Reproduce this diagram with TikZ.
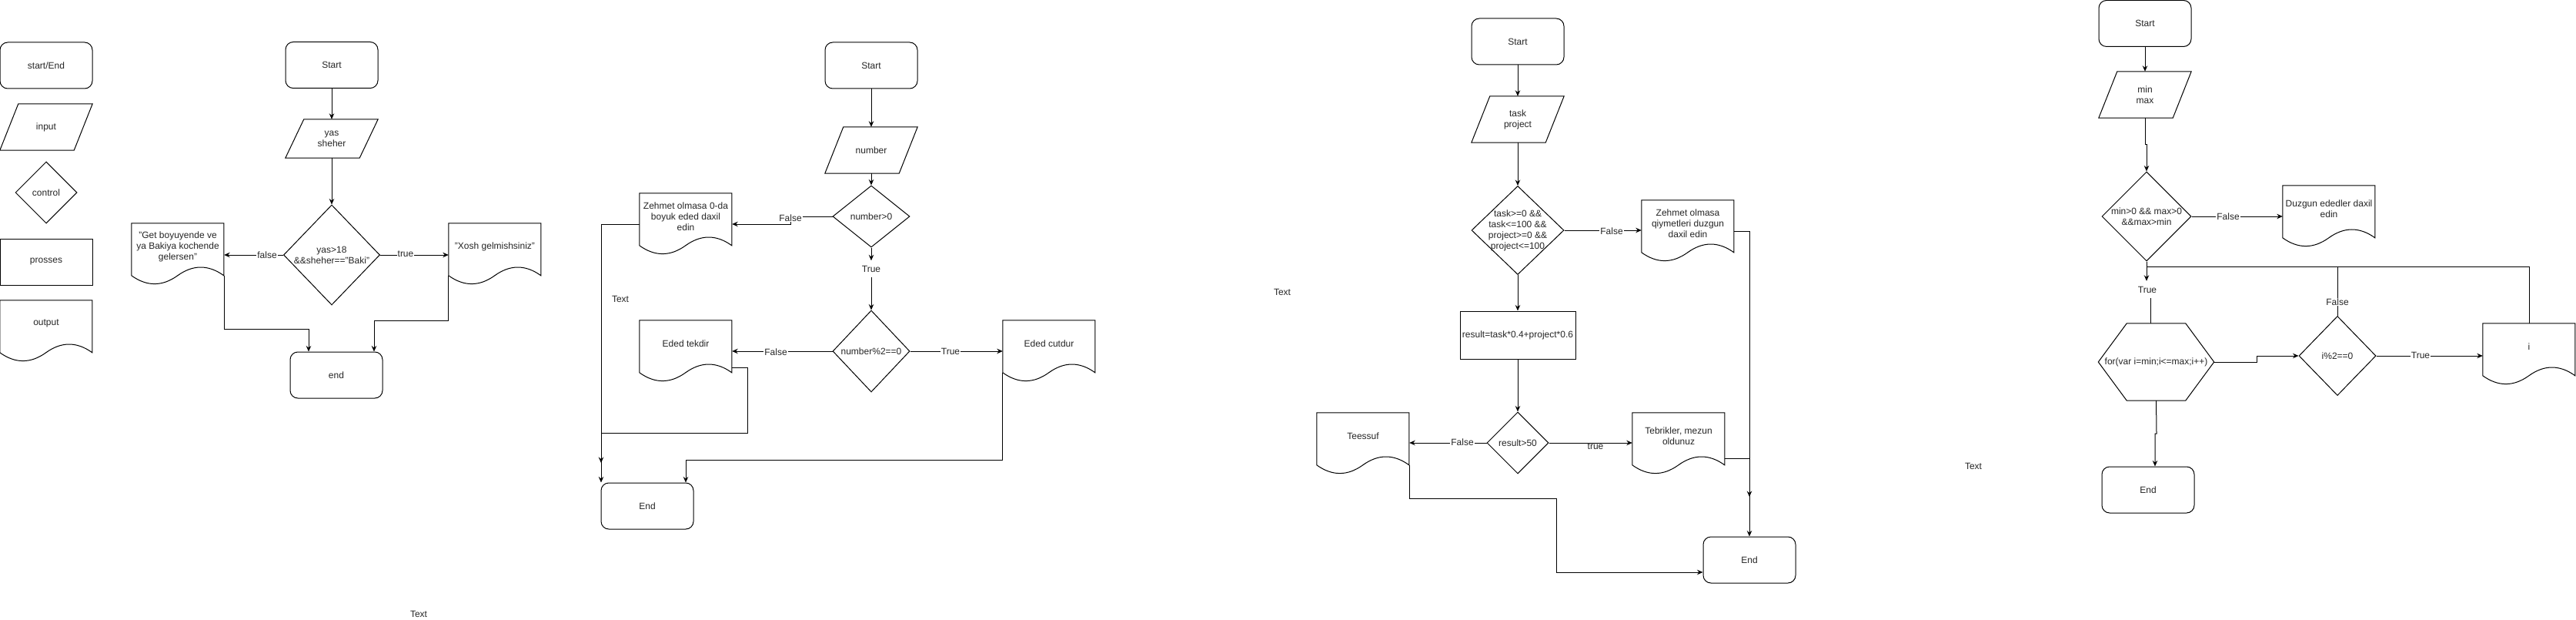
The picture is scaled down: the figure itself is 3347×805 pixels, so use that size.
\documentclass[tikz,border=0pt]{standalone}
\usepackage{fontspec}
\setmainfont{Liberation Sans}
\usetikzlibrary{shapes.geometric,arrows.meta}
\newcommand\ioframe[1]{\draw[stroke1] ([xshift=24pt]#1.north west) -- (#1.north east) -- ([xshift=-24pt]#1.south east) -- (#1.south west) -- cycle;}
\newcommand\docframe[1]{\draw[stroke1,shift={(#1.north west)}] (0,0) -- (120,0) -- (120,68) .. controls (100,53.6) and (80,53.6) .. (60,68) .. controls (40,82.4) and (20,82.4) .. (0,68) -- cycle;}
\newcommand\hexframe[1]{\draw[stroke1] ([xshift=37pt]#1.north west) -- ([xshift=-37pt]#1.north east) -- (#1.east) -- ([xshift=-37pt]#1.south east) -- ([xshift=37pt]#1.south west) -- (#1.west) -- cycle;}
\begin{document}
\begin{tikzpicture}[x=1pt,y=-1pt,
  every node/.style={font=\fontsize{12}{14}\selectfont,text=black!85},
  stroke1/.style={draw=black,line width=1pt},
  arr/.style={stroke1,-{Stealth[length=7.5pt,width=6.5pt,inset=2.5pt]}},
  term/.style={stroke1,rectangle,rounded corners=10pt,minimum width=120pt,minimum height=60pt,inner sep=0pt},
  proc/.style={stroke1,rectangle,minimum width=120pt,minimum height=60pt,inner sep=0pt},
  dec/.style={stroke1,diamond,inner sep=0pt},
  iobox/.style={rectangle,minimum width=120pt,minimum height=60pt,inner sep=0pt},
  docbox/.style={rectangle,minimum width=120pt,minimum height=80pt,inner sep=0pt},
  txt/.style={align=center,inner sep=0pt},
  doctxt/.style={align=center,inner sep=0pt,yshift=10pt},
  elab/.style={fill=white,inner sep=1pt},
]
\fill[white] (0,0) rectangle (3347,805);
\useasboundingbox (0,0) rectangle (3347,805);

% ---------- legend ----------
\node[term] (Lterm) at (60,85) {start/End};
\node[iobox,label={[txt]center:input}] (Lio) at (60,165) {};
\ioframe{Lio}
\node[dec,minimum width=80pt,minimum height=80pt,label={[txt]center:control}] (Ldec) at (60,250) {};
\node[proc] (Lproc) at (60,340) {prosses};
\node[docbox,label={[doctxt]center:output}] (Ldoc) at (60,430) {};
\docframe{Ldoc}

% ---------- flow A ----------
\node[term] (A1) at (431,84.5) {Start};
\node[iobox,minimum height=50pt,label={[txt]center:{yas\\sheher}}] (A2) at (431,180) {};
\ioframe{A2}
\node[dec,minimum width=125pt,minimum height=130pt,label={[txt]center:{yas>18\\\&\&sheher=="Baki"}}] (A3) at (431,331) {};
\node[docbox,label={[doctxt]center:{"Get boyuyende ve\\ya Bakiya kochende\\gelersen"}}] (A4) at (231,330) {};
\docframe{A4}
\node[docbox,label={[doctxt]center:{"Xosh gelmishsiniz"}}] (A5) at (643,330) {};
\docframe{A5}
\node[term] (A6) at (437,487) {end};
\draw[arr] (A1) -- (A2);
\draw[arr] (A2) -- (A3);
\draw[arr] (A3.west) -- (A3.west -| A4.east);
\node[elab] (Af) at (347,331) {false};
\draw[arr] (A3.east) -- (A3.east -| A5.west);
\node[elab] (At) at (527,330) {true};
\draw[arr] ([yshift=-28pt]A4.east) |- (401,427) -- (401,0 |- A6.north);
\draw[arr] ([yshift=-28pt]A5.west) |- (486,416) -- (486,0 |- A6.north);
\node (Tx1) at (544,797) {Text};

% ---------- flow B ----------
\node[term] (B1) at (1132,85) {Start};
\node[iobox,label={[txt]center:number}] (B2) at (1132,195) {};
\ioframe{B2}
\node[dec,minimum width=100pt,minimum height=80pt,label={[txt]center:{number>0}}] (B3) at (1132,281) {};
\node[inner sep=0pt,minimum height=21pt] (Bt) at (1132,349) {True};
\node[dec,minimum width=100pt,minimum height=106pt,label={[txt]center:{number\%2==0}}] (B5) at (1132,456) {};
\node[docbox,label={[doctxt]center:{Zehmet olmasa 0-da\\boyuk eded daxil\\edin}}] (B4) at (891,291) {};
\docframe{B4}
\node[docbox,label={[doctxt]center:{Eded tekdir}}] (B6) at (891,456) {};
\docframe{B6}
\node[docbox,label={[doctxt]center:{Eded cutdur}}] (B7) at (1363,456) {};
\docframe{B7}
\node[term] (B8) at (841,657) {End};
\draw[arr] (B1) -- (B2);
\draw[arr] (B2) -- (B3);
\draw[arr] (B3.south) -- (Bt.north);
\draw[arr] (Bt.south) -- (B5.north);
\draw[arr] (B3.west) -- (1027,281) -- (1027,291) -- (B4.east);
\node[elab] (Bf1) at (1027,283) {False};
\draw[arr] (B4.west) -- (781,291) -- (781,0 |- B8.north);
\draw[arr] (B5.west) -- (B6.east);
\node[elab] (Bf2) at (1008,457) {False};
\coordinate (Bj) at (781,601);
\draw[arr] ([yshift=-21pt]B6.east) -- (971,477) -- (971,562) -- (781,562) -- (Bj);
\draw[arr] (B5.east) -- (B7.west);
\node[elab] (Bt2) at (1235,456) {True};
\draw[arr] ([yshift=-28pt]B7.west) |- (891,597) -- (891,0 |- B8.north);
\node (Tx2) at (806,388) {Text};

% ---------- flow C ----------
\node[term] (C1) at (1972,54) {Start};
\node[iobox,label={[txt]center:{task\\project}}] (C2) at (1972,155) {};
\ioframe{C2}
\node[dec,minimum width=120pt,minimum height=115pt,label={[txt]center:{task>=0 \&\&\\task<=100 \&\&\\project>=0 \&\&\\project<=100}}] (C3) at (1972,299) {};
\node[docbox,label={[doctxt]center:{Zehmet olmasa\\qiymetleri duzgun\\daxil edin}}] (C4) at (2193,300) {};
\docframe{C4}
\node[proc,minimum width=150pt,minimum height=62pt] (C5) at (1972,435) {result=task*0.4+project*0.6};
\node[dec,minimum width=80pt,minimum height=80pt,label={[txt]center:{result>50}}] (C6) at (1972,575) {};
\node[docbox,label={[doctxt]center:{Teessuf}}] (C7) at (1771,576) {};
\docframe{C7}
\node[docbox,label={[doctxt]center:{Tebrikler, mezun\\oldunuz}}] (C8) at (2181,576) {};
\docframe{C8}
\node[term] (C9) at (2273,727) {End};
\draw[arr] (C1) -- (C2);
\draw[arr] (C2) -- (C3);
\draw[arr] (C3.east) -- (C3.east -| C4.west);
\node[elab] (Cf1) at (2094,300) {False};
\draw[arr] (C3) -- (C5);
\draw[arr] (C5) -- (C6);
\draw[arr] (C6.west) -- (C6.west -| C7.east);
\node[elab] (Cf2) at (1900,574) {False};
\draw[arr] (C6.east) -- (C6.east -| C8.west);
\node[inner sep=0pt] (Ct) at (2073,580) {true};
\draw[arr] (C4.east) -- (2273,300) -- (C9.north);
\coordinate (Cj) at (2273,645);
\draw[arr] ([yshift=-19pt]C8.east) -- (2273,595) -- (Cj);
\draw[arr] ([yshift=-28pt]C7.east) |- (2022,647) |- ([yshift=-16pt]C9.west);
\node (Tx3) at (1666,379) {Text};

% ---------- flow D ----------
\node[term] (D1) at (2787,30.5) {Start};
\node[iobox,label={[txt]center:{min\\max}}] (D2) at (2787,123) {};
\ioframe{D2}
\node[dec,minimum width=116pt,minimum height=116pt,label={[txt]center:{min>0 \&\& max>0\\\&\&max>min}}] (D3) at (2789,281) {};
\node[docbox,label={[doctxt]center:{Duzgun ededler daxil\\edin}}] (D4) at (3026,281) {};
\docframe{D4}
\node[inner sep=0pt,minimum height=22pt] (Dt) at (2790,376) {True};
\node[rectangle,minimum width=150pt,minimum height=100pt,inner sep=0pt,label={[txt]center:{for(var i=min;i<=max;i++)}}] (D5) at (2801.5,470) {};
\hexframe{D5}
\node[dec,minimum width=100pt,minimum height=103pt,label={[txt]center:{i\%2==0}}] (D6) at (3037,462) {};
\node[docbox,label={[doctxt]center:{i}}] (D7) at (3286,460) {};
\docframe{D7}
\node[term] (D8) at (2791,636) {End};
\draw[arr] (D1) -- (D2);
\draw[arr] (D2.south) -- (2787,188) -- (2789,188) -- (D3.north);
\draw[arr] (D3.east) -- (D3.east -| D4.west);
\node[elab] (Df1) at (2895,281) {False};
\draw[arr] (D3.south) -- ([xshift=-1pt]Dt.north);
\draw[stroke1] ([xshift=4pt]Dt.south) -- (2794,0 |- D5.north);
\draw[stroke1] (D6.north) -- (3037,346) -- (2789,346);
\node[elab] (Df2) at (3037,392) {False};
\draw[stroke1] (D7.north) -- (3286,346) -- (3037,346);
\draw[arr] (D5.east) -- (2932,470) -- (2932,462) -- (D6.west);
\draw[arr] (D6.east) -- (D6.east -| D7.west);
\node[elab] (Dt2) at (3145,461) {True};
\draw[arr] (D5.south) -- (2802,563) -- (2800,563) -- (2800,0 |- D8.north);
\node (Tx4) at (2564,605) {Text};
\end{tikzpicture}
\end{document}
